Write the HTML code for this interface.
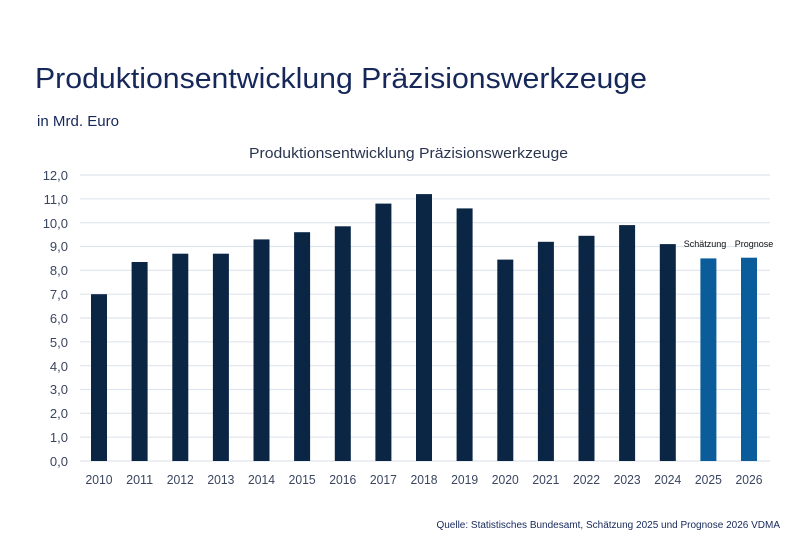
<!DOCTYPE html>
<html><head><meta charset="utf-8"><style>
body{margin:0;background:#fff;width:800px;height:534px;overflow:hidden;font-family:"Liberation Sans",sans-serif}
</style></head><body>
<svg width="800" height="534" xmlns="http://www.w3.org/2000/svg" font-family="Liberation Sans, sans-serif">
<text x="35" y="88" font-size="29" fill="#16285a" textLength="612" lengthAdjust="spacingAndGlyphs">Produktionsentwicklung Präzisionswerkzeuge</text>
<text x="37" y="126" font-size="15" fill="#16285a" textLength="82" lengthAdjust="spacingAndGlyphs">in Mrd. Euro</text>
<text x="249" y="158" font-size="15" fill="#2a3550" textLength="319" lengthAdjust="spacingAndGlyphs">Produktionsentwicklung  Präzisionswerkzeuge</text>
<g stroke="#dfe5ee" stroke-width="1.2">
<line x1="80" x2="770" y1="175" y2="175"/><line x1="80" x2="770" y1="198.8" y2="198.8"/>
<line x1="80" x2="770" y1="222.7" y2="222.7"/><line x1="80" x2="770" y1="246.5" y2="246.5"/>
<line x1="80" x2="770" y1="270.3" y2="270.3"/><line x1="80" x2="770" y1="294.2" y2="294.2"/>
<line x1="80" x2="770" y1="318" y2="318"/><line x1="80" x2="770" y1="341.8" y2="341.8"/>
<line x1="80" x2="770" y1="365.7" y2="365.7"/><line x1="80" x2="770" y1="389.5" y2="389.5"/>
<line x1="80" x2="770" y1="413.3" y2="413.3"/><line x1="80" x2="770" y1="437.2" y2="437.2"/>
<line x1="80" x2="770" y1="461" y2="461"/>
</g>
<g font-size="13" fill="#3a4560" text-anchor="end">
<text x="68" y="180">12,0</text><text x="68" y="204">11,0</text><text x="68" y="228">10,0</text>
<text x="68" y="251">9,0</text><text x="68" y="275">8,0</text><text x="68" y="299">7,0</text>
<text x="68" y="323">6,0</text><text x="68" y="347">5,0</text><text x="68" y="371">4,0</text>
<text x="68" y="394">3,0</text><text x="68" y="418">2,0</text><text x="68" y="442">1,0</text>
<text x="68" y="466">0,0</text>
</g>
<text x="705" y="247" font-size="9" fill="#111" text-anchor="middle">Schätzung</text>
<text x="754" y="247" font-size="9" fill="#111" text-anchor="middle">Prognose</text>
<text x="780" y="528" font-size="10" fill="#16285a" text-anchor="end">Quelle: Statistisches Bundesamt, Schätzung 2025 und Prognose 2026 VDMA</text>
<g font-size="13" fill="#3a4560" text-anchor="middle">
<text x="99" y="484" textLength="27" lengthAdjust="spacingAndGlyphs">2010</text><text x="139.6" y="484" textLength="27" lengthAdjust="spacingAndGlyphs">2011</text><text x="180.3" y="484" textLength="27" lengthAdjust="spacingAndGlyphs">2012</text>
<text x="220.9" y="484" textLength="27" lengthAdjust="spacingAndGlyphs">2013</text><text x="261.5" y="484" textLength="27" lengthAdjust="spacingAndGlyphs">2014</text><text x="302.1" y="484" textLength="27" lengthAdjust="spacingAndGlyphs">2015</text>
<text x="342.8" y="484" textLength="27" lengthAdjust="spacingAndGlyphs">2016</text><text x="383.4" y="484" textLength="27" lengthAdjust="spacingAndGlyphs">2017</text><text x="424" y="484" textLength="27" lengthAdjust="spacingAndGlyphs">2018</text>
<text x="464.6" y="484" textLength="27" lengthAdjust="spacingAndGlyphs">2019</text><text x="505.3" y="484" textLength="27" lengthAdjust="spacingAndGlyphs">2020</text><text x="545.9" y="484" textLength="27" lengthAdjust="spacingAndGlyphs">2021</text>
<text x="586.5" y="484" textLength="27" lengthAdjust="spacingAndGlyphs">2022</text><text x="627.1" y="484" textLength="27" lengthAdjust="spacingAndGlyphs">2023</text><text x="667.8" y="484" textLength="27" lengthAdjust="spacingAndGlyphs">2024</text>
<text x="708.4" y="484" textLength="27" lengthAdjust="spacingAndGlyphs">2025</text><text x="749" y="484" textLength="27" lengthAdjust="spacingAndGlyphs">2026</text>
</g>
<g fill="#0b2545">
<rect x="91" y="294.2" width="16" height="166.8"/>
<rect x="131.6" y="262" width="16" height="199"/>
<rect x="172.3" y="253.7" width="16" height="207.3"/>
<rect x="212.9" y="253.7" width="16" height="207.3"/>
<rect x="253.5" y="239.4" width="16" height="221.6"/>
<rect x="294.1" y="232.2" width="16" height="228.8"/>
<rect x="334.8" y="226.3" width="16" height="234.7"/>
<rect x="375.4" y="203.6" width="16" height="257.4"/>
<rect x="416" y="194.1" width="16" height="266.9"/>
<rect x="456.6" y="208.4" width="16" height="252.6"/>
<rect x="497.3" y="259.6" width="16" height="201.4"/>
<rect x="537.9" y="241.8" width="16" height="219.2"/>
<rect x="578.5" y="235.8" width="16" height="225.2"/>
<rect x="619.1" y="225.1" width="16" height="235.9"/>
<rect x="659.8" y="244.1" width="16" height="216.9"/>
</g>
<g fill="#0a5c9a">
<rect x="700.4" y="258.4" width="16" height="202.6"/>
<rect x="741" y="257.7" width="16" height="203.3"/>
</g>
</svg>
</body></html>
